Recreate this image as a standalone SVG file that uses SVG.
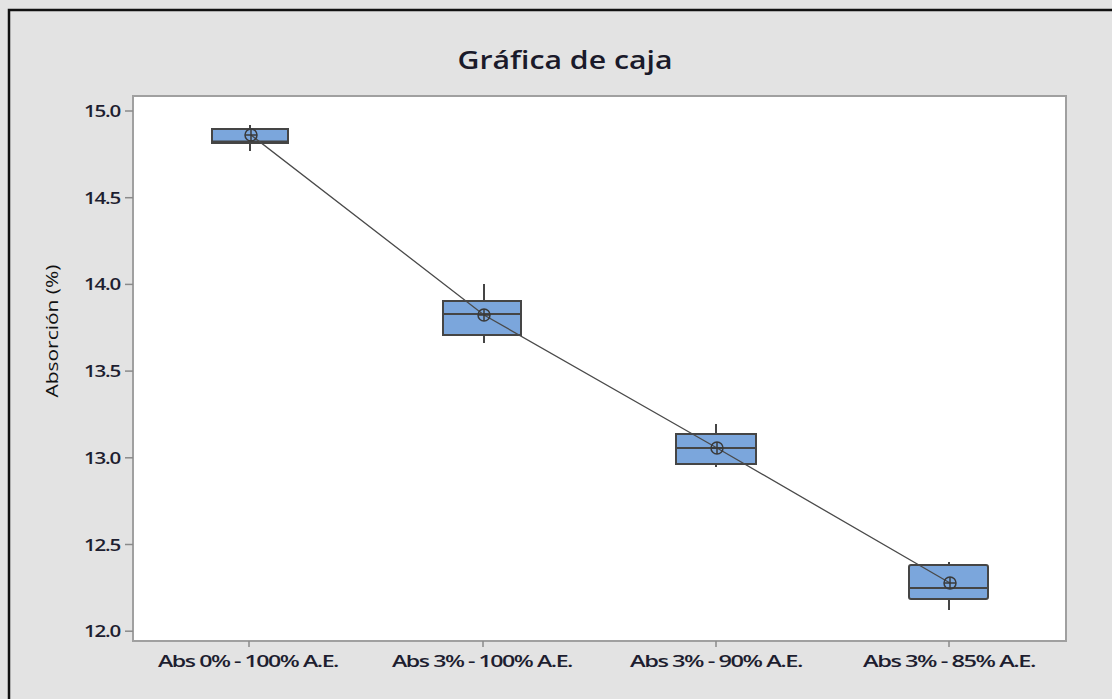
<svg xmlns="http://www.w3.org/2000/svg" width="1112" height="699" viewBox="0 0 1112 699">
<style>
.tick{font-family:"Open Sans","Liberation Sans",sans-serif;font-size:17px;font-weight:600;fill:#1e1e30;letter-spacing:-1px}
.xl{font-family:"Open Sans","Liberation Sans",sans-serif;font-size:16px;font-weight:600;fill:#1e1e30;text-anchor:middle;letter-spacing:-1px}
.box{fill:#7ba6dc;stroke:#454545;stroke-width:2}
.med{stroke:#454545;stroke-width:2}
.wh{stroke:#454545;stroke-width:2}
.tk{stroke:#8a8a8a;stroke-width:1.5}
.mean{fill:none;stroke:#3a3a3a;stroke-width:1.5}
</style>
<rect x="0" y="0" width="1112" height="699" fill="#e3e3e3"/>
<polyline points="9,699 9,10 1112,10" fill="none" stroke="#111" stroke-width="2.5"/>
<text x="565" y="69" text-anchor="middle" font-family="'Open Sans','Liberation Sans',sans-serif" font-size="26" font-weight="600" fill="#1a1a2a" textLength="215" lengthAdjust="spacingAndGlyphs">Gráfica de caja</text>
<text transform="translate(58,331) rotate(-90)" text-anchor="middle" font-family="'Open Sans','Liberation Sans',sans-serif" font-size="17" fill="#111" textLength="133" lengthAdjust="spacingAndGlyphs">Absorción (%)</text>
<rect x="133" y="96" width="933" height="545" fill="#fff" stroke="#a0a0a0" stroke-width="2"/>
<g id="yaxis">
<line class="tk" x1="125" y1="111" x2="133" y2="111"/>
<line class="tk" x1="125" y1="197.7" x2="133" y2="197.7"/>
<line class="tk" x1="125" y1="284.4" x2="133" y2="284.4"/>
<line class="tk" x1="125" y1="371.1" x2="133" y2="371.1"/>
<line class="tk" x1="125" y1="457.8" x2="133" y2="457.8"/>
<line class="tk" x1="125" y1="544.5" x2="133" y2="544.5"/>
<line class="tk" x1="125" y1="631.2" x2="133" y2="631.2"/>
<text class="tick" x="120" y="117" text-anchor="end" textLength="36" lengthAdjust="spacingAndGlyphs">15.0</text>
<text class="tick" x="120" y="203.7" text-anchor="end" textLength="36" lengthAdjust="spacingAndGlyphs">14.5</text>
<text class="tick" x="120" y="290.4" text-anchor="end" textLength="36" lengthAdjust="spacingAndGlyphs">14.0</text>
<text class="tick" x="120" y="377.1" text-anchor="end" textLength="36" lengthAdjust="spacingAndGlyphs">13.5</text>
<text class="tick" x="120" y="463.8" text-anchor="end" textLength="36" lengthAdjust="spacingAndGlyphs">13.0</text>
<text class="tick" x="120" y="550.5" text-anchor="end" textLength="36" lengthAdjust="spacingAndGlyphs">12.5</text>
<text class="tick" x="120" y="637.2" text-anchor="end" textLength="36" lengthAdjust="spacingAndGlyphs">12.0</text>
</g>
<g id="xaxis">
<line class="tk" x1="249" y1="641" x2="249" y2="647"/>
<line class="tk" x1="483" y1="641" x2="483" y2="647"/>
<line class="tk" x1="716" y1="641" x2="716" y2="647"/>
<line class="tk" x1="949" y1="641" x2="949" y2="647"/>
<text class="xl" x="248" y="667" textLength="180" lengthAdjust="spacingAndGlyphs">Abs 0% - 100% A.E.</text>
<text class="xl" x="482" y="667" textLength="180" lengthAdjust="spacingAndGlyphs">Abs 3% - 100% A.E.</text>
<text class="xl" x="716" y="667" textLength="172" lengthAdjust="spacingAndGlyphs">Abs 3% - 90% A.E.</text>
<text class="xl" x="949" y="667" textLength="172" lengthAdjust="spacingAndGlyphs">Abs 3% - 85% A.E.</text>
</g>
<g id="box1">
<line class="wh" x1="250" y1="125" x2="250" y2="151"/>
<rect class="box" x="212" y="129" width="76" height="14"/>
<line class="med" x1="212" y1="141.5" x2="288" y2="141.5"/>
</g>
<g id="box2">
<line class="wh" x1="484" y1="284" x2="484" y2="343"/>
<rect class="box" x="443" y="301" width="78" height="34"/>
<line class="med" x1="443" y1="314" x2="521" y2="314"/>
</g>
<g id="box3">
<line class="wh" x1="716" y1="424" x2="716" y2="467"/>
<rect class="box" x="676" y="434" width="80" height="30"/>
<line class="med" x1="676" y1="448" x2="756" y2="448"/>
</g>
<g id="box4">
<line class="wh" x1="949" y1="562" x2="949" y2="610"/>
<rect class="box" x="909" y="565" width="79" height="34" rx="2"/>
<line class="med" x1="909" y1="588" x2="988" y2="588"/>
</g>
<g id="connectors">
<polyline points="251,135 484,315 717,448 950,583" fill="none" stroke="#4a4a4a" stroke-width="1.3"/>
</g>
<g id="means">
<g class="mean"><circle cx="251" cy="135" r="6"/><line x1="245" y1="135" x2="257" y2="135"/><line x1="251" y1="129" x2="251" y2="141"/></g>
<g class="mean"><circle cx="484" cy="315" r="6"/><line x1="478" y1="315" x2="490" y2="315"/><line x1="484" y1="309" x2="484" y2="321"/></g>
<g class="mean"><circle cx="717" cy="448" r="6"/><line x1="711" y1="448" x2="723" y2="448"/><line x1="717" y1="442" x2="717" y2="454"/></g>
<g class="mean"><circle cx="950" cy="583" r="6"/><line x1="944" y1="583" x2="956" y2="583"/><line x1="950" y1="577" x2="950" y2="589"/></g>
</g>
</svg>
